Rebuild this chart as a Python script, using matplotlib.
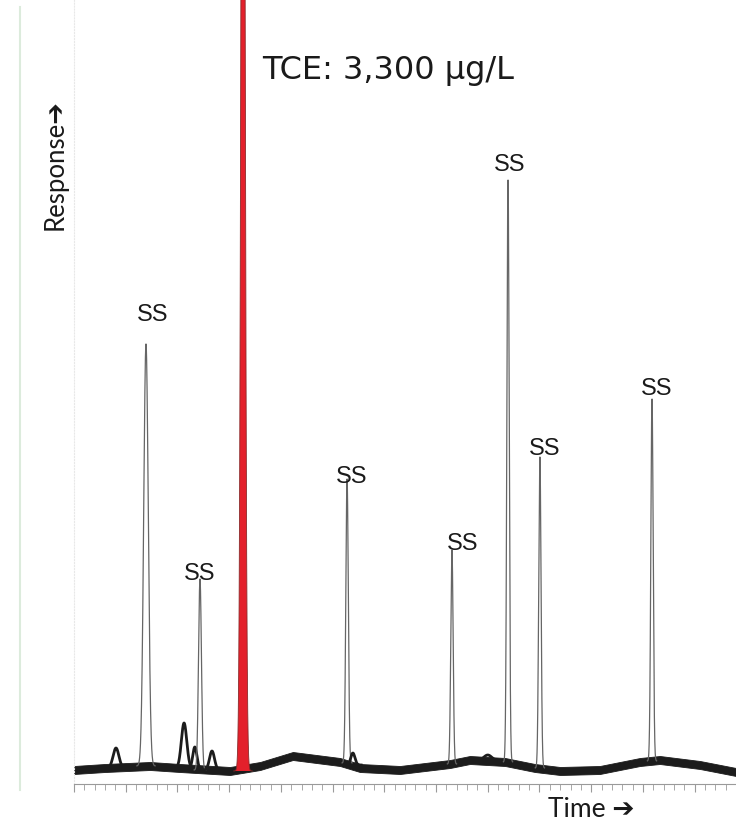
import matplotlib
matplotlib.use('Agg')  # no display
import matplotlib.pyplot as plt
from matplotlib.ticker import MultipleLocator
from matplotlib.lines import Line2D
import numpy as np

# baseline drift (time in min, detector response)
base_t = [0.0, 0.75, 1.84, 2.56, 3.77, 4.5, 5.29, 6.43, 6.91, 7.88,
          9.09, 9.57, 10.42, 11.14, 11.75, 12.71, 13.68, 14.16, 15.13, 16.0]
base_y = [14, 16, 18, 16, 13, 18, 28, 22, 16, 14,
          20, 24, 22, 16, 13, 14, 22, 24, 19, 12]

# peaks: retention time, height above baseline, width (sigma), local baseline
peak_rt = [1.015, 1.74, 2.66, 2.92, 3.045, 3.335, 6.60, 6.74, 9.135, 10.0, 10.49, 11.26, 13.97]
peak_h = [20, 422, 45, 22, 191, 19, 284, 12, 214, 6, 582, 311, 362]
peak_sigma = [0.07, 0.055, 0.065, 0.05, 0.035, 0.06, 0.03, 0.05, 0.028, 0.1, 0.028, 0.028, 0.028]
peak_base = [16, 18, 16, 15, 14, 14, 21, 19, 20, 23, 22, 16, 23]
peak_label = ['', 'SS', '', '', 'SS', '', 'SS', '', 'SS', '', 'SS', 'SS', 'SS']

# target compound (off scale)
tce_rt = 4.085
tce_h = 1500
tce_sigma = 0.045
tce_base = 13
tce_label = 'TCE: 3,300 µg/L'

# label offsets from the peak apex, in pixels
label_dx = [0, 7, 0, 0, 0, 0, 5, 0, 11, 0, 2, 5, 5]
label_dy = [0, 29, 0, 0, 5, 0, 2, 0, 6, 0, 15, 8, 10]

fig = plt.figure(figsize=(7.36, 8.22), dpi=100)
ax = fig.add_axes([74 / 736, 1 - 784 / 822, 662 / 736, 784 / 822])
ax.set_xlim(0, 16)
ax.set_ylim(0, 784)

# noisy baseline drawn as a dark band
noise = 4
ax.fill_between(base_t, np.array(base_y) - noise, np.array(base_y) + noise,
                color='#1c1c1c', linewidth=0.6, edgecolor='#1c1c1c', zorder=2)

# peaks
for rt, h, s, b, lab, dx, dy in zip(peak_rt, peak_h, peak_sigma, peak_base,
                                     peak_label, label_dx, label_dy):
    t = np.linspace(rt - 4 * s, rt + 4 * s, 300)
    y = b + h * np.exp(-0.5 * ((t - rt) / s) ** 2)
    if h < 60:
        ax.plot(t, y, color='#1c1c1c', linewidth=2, zorder=3)
    else:
        ax.plot(t, y, color='#666666', linewidth=0.9, zorder=3)
    if lab:
        ax.annotate(lab, xy=(rt, b + h), xytext=(dx, dy), textcoords='offset pixels',
                    ha='center', va='center', fontsize=17, family='Liberation Sans',
                    color='#1a1a1a', zorder=5)

# TCE peak filled in red
t = np.linspace(tce_rt - 5 * tce_sigma, tce_rt + 5 * tce_sigma, 400)
y = tce_base + tce_h * np.exp(-0.5 * ((t - tce_rt) / tce_sigma) ** 2)
ax.fill_between(t, tce_base, y, color='#e3202b', linewidth=0, zorder=4)
ax.plot(t, y, color='#8a2a2a', linewidth=0.6, zorder=4)

# axes styling
for side in ['top', 'right']:
    ax.spines[side].set_visible(False)
ax.spines['left'].set_color('#e8e8e8')
ax.spines['left'].set_linestyle(':')
ax.spines['bottom'].set_color('#9a9a9a')
ax.xaxis.set_major_locator(MultipleLocator(1.25))
ax.xaxis.set_minor_locator(MultipleLocator(0.25))
ax.tick_params(axis='x', which='both', colors='#9a9a9a', labelbottom=False, direction='out')
ax.tick_params(axis='x', which='major', length=6)
ax.tick_params(axis='x', which='minor', length=4)
ax.set_yticks([])

fig.add_artist(Line2D([20 / 736, 20 / 736], [1 - 790 / 822, 1 - 7 / 822],
                      color='#dcebdc', linewidth=1.5))

fig.text(262 / 736, 1 - 70 / 822, tce_label, ha='left', va='center', fontsize=23,
         family='DejaVu Sans', color='#1a1a1a')
fig.text(55 / 736, 1 - 165 / 822, 'Response\u2794', rotation=90, ha='center', va='center',
         fontsize=18.5, family=['Lato', 'DejaVu Sans'], color='#1a1a1a')
fig.text(548 / 736, 1 - 809 / 822, 'Time \u2794', ha='left', va='center',
         fontsize=19, family=['Lato', 'DejaVu Sans'], color='#1a1a1a')

plt.savefig('out.png', dpi=100)
plt.close()
